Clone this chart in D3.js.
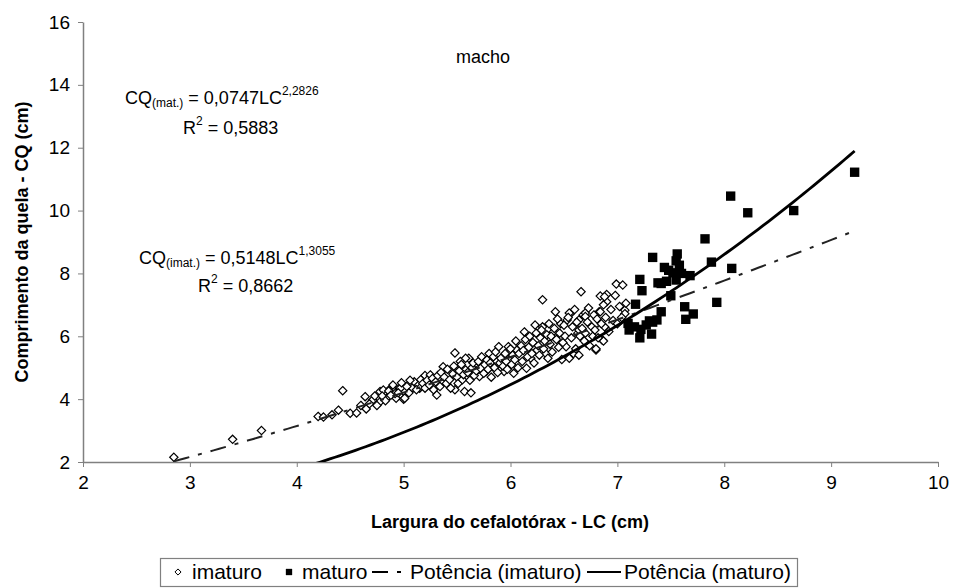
<!DOCTYPE html>
<html>
<head>
<meta charset="utf-8">
<script src="https://cdn.jsdelivr.net/npm/d3@7"></script>
<style>
body { margin: 0; background: #fff; }
text { font-family: Arial, "Liberation Sans", sans-serif; }
.axis path, .axis line { stroke: #808080; }
.axis text { fill: #000; font-size: 19px; font-family: Arial, "Liberation Sans", sans-serif; }
</style>
</head>
<body>
<div class="container"></div>
<script>
var WIDTH = 953,
	HEIGHT = 588,
	LEFT = 83,
	RIGHT = 938,
	TOP = 22,
	BOTTOM = 462;

var xTicks = [2, 3, 4, 5, 6, 7, 8, 9, 10];
var yTicks = [2, 4, 6, 8, 10, 12, 14, 16];

// imaturo: [LC, CQ]
var imaturo = [
	[2.85,2.15],[3.4,2.72],[3.67,3.0],[4.2,3.45],[4.25,3.43],[4.33,3.5],[4.39,3.65],[4.43,4.27],
	[4.5,3.55],[4.56,3.56],[4.65,3.69],[4.64,4.08],[4.71,3.97],[4.78,4.24],[4.78,3.92],[4.84,4.03],
	[4.86,4.28],[4.93,4.03],[4.96,4.35],[5.0,4.25],[5.0,4.0],[5.08,4.35],[5.1,4.55],[5.14,4.45],
	[5.2,4.75],[4.81,4.29],[4.86,4.26],[4.97,4.35],[5.01,4.03],[5.15,4.35],[5.25,4.77],[5.31,4.13],
	[5.37,5.03],[5.37,4.56],[5.48,5.47],[5.48,4.3],[5.53,5.2],[5.58,4.93],[5.57,4.24],[5.63,4.2],
	[5.61,5.3],[5.67,5.03],[5.71,4.72],[5.74,5.24],[5.77,4.87],[5.8,5.45],[5.83,5.03],[5.87,5.2],
	[5.89,5.67],[5.94,4.88],[5.98,5.67],[6.0,5.3],[6.03,4.82],[6.06,5.56],[6.13,6.14],[6.15,4.98],
	[6.19,5.3],[6.23,6.36],[6.25,5.56],[6.3,6.3],[6.3,7.16],[6.33,5.45],[6.4,6.14],[6.42,6.78],
	[6.47,6.4],[6.48,5.26],[6.52,5.67],[6.56,6.72],[6.59,5.45],[6.63,6.1],[6.68,6.68],[6.71,5.78],
	[6.76,6.3],[6.8,5.56],[6.83,6.78],[6.86,5.88],[6.9,7.1],[7.07,6.83],
	[6.66,7.42],[6.84,7.28],[6.9,7.33],[6.99,7.66],[7.05,7.63],[6.7,6.74],[6.55,6.74],[6.78,6.68],
	[6.84,6.78],[6.87,7.0],[7.07,6.72],[6.88,6.3],[6.53,6.52],[6.64,6.52],[6.7,6.63],[6.64,6.2],
	[6.7,6.1],[6.77,6.0],[6.86,5.88],[6.8,5.6],[6.64,5.4],[6.55,5.3],[6.88,7.26],[6.87,5.85],
	[4.9,4.45],[4.92,4.18],[4.98,4.52],[5.03,4.4],[5.05,4.2],[5.06,4.6],[5.12,4.3],[5.16,4.62],
	[5.18,4.5],[5.2,4.35],[5.22,4.6],[5.24,4.45],[5.27,4.66],[5.28,4.3],[5.3,4.55],[5.32,4.75],
	[5.34,4.4],[5.35,4.85],[5.38,4.7],[5.4,4.5],[5.41,4.95],[5.43,4.62],[5.44,4.35],[5.46,4.8],
	[5.47,5.05],[5.5,4.7],[5.51,4.5],[5.52,4.9],[5.54,5.1],[5.55,4.62],[5.56,4.78],[5.58,5.3],
	[5.6,4.85],[5.62,4.6],[5.64,5.0],[5.65,5.15],[5.66,4.75],[5.68,4.9],[5.7,5.2],[5.72,4.98],
	[5.73,5.35],[5.75,4.82],[5.76,5.1],[5.78,5.25],[5.79,4.95],[5.81,5.15],[5.82,4.7],[5.84,5.35],
	[5.85,5.0],[5.86,5.5],[5.88,4.85],[5.9,5.15],[5.91,5.3],[5.93,5.05],[5.95,5.45],[5.96,5.2],
	[5.97,4.95],[6.0,5.6],[6.01,5.1],[6.02,5.4],[6.04,5.25],[6.05,5.85],[6.07,5.0],[6.08,5.45],
	[6.1,5.7],[6.11,5.2],[6.12,5.55],[6.14,5.9],[6.16,5.35],[6.17,5.65],[6.18,6.0],[6.2,5.45],
	[6.21,5.8],[6.22,5.15],[6.24,6.1],[6.26,5.7],[6.27,5.4],[6.28,5.95],[6.29,6.2],[6.31,5.6],
	[6.32,5.85],[6.34,6.05],[6.35,5.3],[6.36,6.4],[6.37,5.75],[6.38,6.0],[6.39,5.5],[6.41,6.25],
	[6.43,5.9],[6.44,6.55],[6.45,5.65],[6.46,6.1],[6.49,5.8],[6.5,6.35],[6.51,6.0],[6.54,6.6],
	[6.57,5.95],[6.58,6.3],[6.6,6.85],[6.61,5.6],[6.62,6.45],[6.65,6.0],[6.67,6.25],[6.69,5.85],
	[6.72,6.45],[6.73,6.9],[6.74,5.7],[6.79,6.2],[6.81,6.55],[6.82,5.95],[6.85,6.4],[6.89,6.6],
	[6.92,6.15],[6.94,6.85],[6.96,6.5],[6.98,7.3],[7.0,6.4],[7.02,6.95],[7.04,6.6],[7.08,7.05],
	[4.6,3.8],[4.68,3.85],[4.73,4.1],[4.75,3.8],[4.8,4.1],[4.83,3.95],[4.88,4.12],[4.95,4.2]
];

// maturo: [LC, CQ]
var maturo = [
	[9.22,11.22],[8.06,10.46],[8.22,9.93],[8.65,10.0],[7.82,9.1],[7.88,8.36],[8.07,8.16],[7.93,7.08],
	[7.33,8.51],[7.56,8.62],[7.44,8.19],[7.55,8.4],[7.58,8.26],[7.52,8.02],[7.6,8.0],[7.68,7.93],
	[7.55,7.79],[7.38,7.7],[7.41,7.68],[7.21,7.81],[7.23,7.45],[7.5,7.29],[7.17,7.02],[7.63,6.94],
	[7.71,6.71],[7.64,6.54],[7.41,6.78],[7.37,6.52],[7.3,6.49],[7.27,6.36],[7.1,6.41],[7.11,6.2],
	[7.16,6.3],[7.22,6.22],[7.21,5.95],[7.32,6.07],[7.33,6.45],[7.48,8.1],[7.46,7.75]
];

// power trendlines CQ = a * LC^b, drawn over [from, to]
var trendImaturo = { a: 0.5148, b: 1.3055, from: 2.85, to: 9.22 };
var trendMaturo = { a: 0.0747, b: 2.2826, from: 3.5, to: 9.22 };

var svg = d3.select('.container').append('svg')
	.attr('width', WIDTH)
	.attr('height', HEIGHT);

var xScale = d3.scaleLinear().domain([2, 10]).range([LEFT, RIGHT]);
var yScale = d3.scaleLinear().domain([2, 16]).range([BOTTOM, TOP]);

svg.append('g')
	.attr('class', 'axis')
	.attr('transform', 'translate(0,' + BOTTOM + ')')
	.call(d3.axisBottom(xScale).tickValues(xTicks).tickSize(5).tickSizeOuter(0).tickPadding(9))
	.call(function(g) { g.select('.domain').attr('stroke-width', 1.5); });

svg.append('g')
	.attr('class', 'axis')
	.attr('transform', 'translate(' + LEFT + ',0)')
	.call(d3.axisLeft(yScale).tickValues(yTicks).tickSize(5).tickSizeOuter(0).tickPadding(8))
	.call(function(g) { g.select('.domain').attr('stroke-width', 1.5); });

svg.append('clipPath').attr('id', 'plot')
	.append('rect')
	.attr('x', LEFT).attr('y', TOP)
	.attr('width', RIGHT - LEFT).attr('height', BOTTOM - TOP);

var plot = svg.append('g').attr('clip-path', 'url(#plot)');

var diamond = d3.symbol().type(d3.symbolDiamond2).size(44);
var square = d3.symbol().type(d3.symbolSquare).size(88);

plot.selectAll('.imat')
	.data(imaturo).enter()
	.append('path')
	.attr('class', 'imat')
	.attr('d', diamond)
	.attr('transform', function(d) { return 'translate(' + xScale(d[0]) + ',' + yScale(d[1]) + ')'; })
	.attr('fill', '#fff')
	.attr('stroke', '#000')
	.attr('stroke-width', 1.2);

plot.selectAll('.mat')
	.data(maturo).enter()
	.append('path')
	.attr('class', 'mat')
	.attr('d', square)
	.attr('transform', function(d) { return 'translate(' + xScale(d[0]) + ',' + yScale(d[1]) + ')'; })
	.attr('fill', '#000');

function trendPoints(t) {
	var n = 120, pts = [];
	for (var i = 0; i <= n; i++) {
		var x = t.from + (t.to - t.from) * i / n;
		pts.push([x, t.a * Math.pow(x, t.b)]);
	}
	return pts;
}

var line = d3.line()
	.x(function(d) { return xScale(d[0]); })
	.y(function(d) { return yScale(d[1]); });

plot.append('path')
	.datum(trendPoints(trendImaturo))
	.attr('d', line)
	.attr('fill', 'none')
	.attr('stroke', '#222')
	.attr('stroke-width', 2)
	.attr('stroke-dasharray', '16,9,4,9');

plot.append('path')
	.datum(trendPoints(trendMaturo))
	.attr('d', line)
	.attr('fill', 'none')
	.attr('stroke', '#000')
	.attr('stroke-width', 2.8);

// texts
svg.append('text')
	.attr('x', 483).attr('y', 63)
	.attr('text-anchor', 'middle')
	.style('font-size', '18px')
	.text('macho');

function equation(x, y, sub, coef, exp) {
	var t = svg.append('text').attr('x', x).attr('y', y).style('font-size', '18px');
	t.append('tspan').text('CQ');
	t.append('tspan').style('font-size', '12px').attr('dy', 3).text(sub);
	t.append('tspan').attr('dy', -3).text(' = ' + coef + 'LC');
	t.append('tspan').style('font-size', '12px').attr('dy', -9).text(exp);
}

function rsq(x, y, val) {
	var t = svg.append('text').attr('x', x).attr('y', y).style('font-size', '18px');
	t.append('tspan').text('R');
	t.append('tspan').style('font-size', '12px').attr('dy', -9).text('2');
	t.append('tspan').attr('dy', 9).text(' = ' + val);
}

equation(125, 104, '(mat.)', '0,0747', '2,2826');
rsq(183, 134, '0,5883');
equation(139, 264, '(imat.)', '0,5148', '1,3055');
rsq(198, 292, '0,8662');

svg.append('text')
	.attr('x', 510).attr('y', 528)
	.attr('text-anchor', 'middle')
	.style('font-size', '18px')
	.style('font-weight', 'bold')
	.text('Largura do cefalotórax - LC (cm)');

svg.append('text')
	.attr('transform', 'translate(28,242) rotate(-90)')
	.attr('text-anchor', 'middle')
	.style('font-size', '18px')
	.style('font-weight', 'bold')
	.text('Comprimento da quela - CQ (cm)');

// legend
var legend = svg.append('g');
legend.append('rect')
	.attr('x', 160.5).attr('y', 558.5)
	.attr('width', 637).attr('height', 28)
	.attr('fill', '#fff')
	.attr('stroke', '#808080')
	.attr('stroke-width', 1.2);

var ly = 572;
legend.append('path')
	.attr('d', d3.symbol().type(d3.symbolDiamond2).size(24))
	.attr('transform', 'translate(178,' + ly + ')')
	.attr('fill', '#fff').attr('stroke', '#000');
legend.append('text').attr('x', 192).attr('y', ly + 7).style('font-size', '21px').text('imaturo');

legend.append('path')
	.attr('d', d3.symbol().type(d3.symbolSquare).size(40))
	.attr('transform', 'translate(289,' + ly + ')')
	.attr('fill', '#000');
legend.append('text').attr('x', 302).attr('y', ly + 7).style('font-size', '21px').text('maturo');

legend.append('line')
	.attr('x1', 372).attr('x2', 406).attr('y1', ly).attr('y2', ly)
	.attr('stroke', '#000').attr('stroke-width', 2)
	.attr('stroke-dasharray', '16,9,4,9');
legend.append('text').attr('x', 410).attr('y', ly + 7).style('font-size', '21px').text('Potência (imaturo)');

legend.append('line')
	.attr('x1', 587).attr('x2', 621).attr('y1', ly).attr('y2', ly)
	.attr('stroke', '#000').attr('stroke-width', 2);
legend.append('text').attr('x', 624).attr('y', ly + 7).style('font-size', '21px').text('Potência (maturo)');
</script>
</body>
</html>
